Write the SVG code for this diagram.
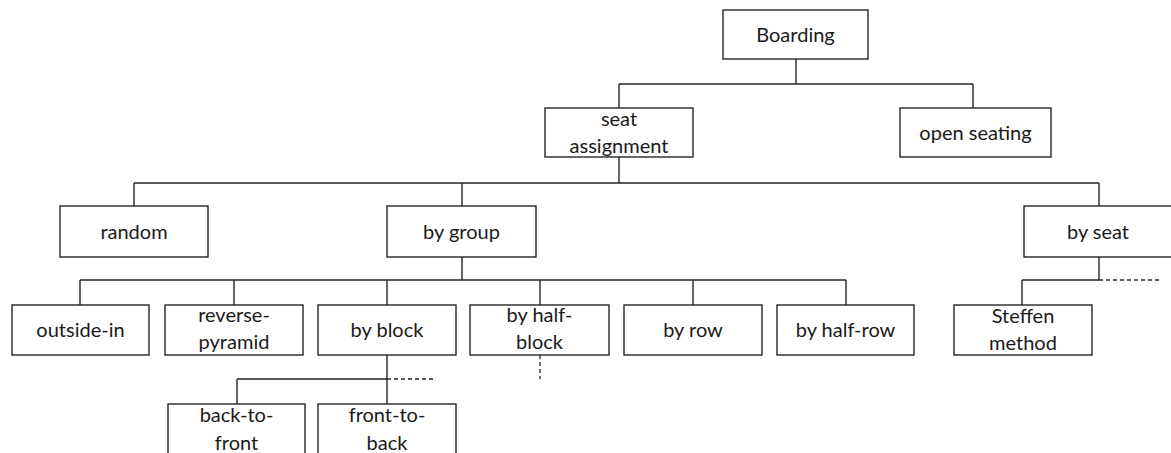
<svg xmlns="http://www.w3.org/2000/svg" width="1171" height="453" viewBox="0 0 1171 453">
<style>
.box{fill:#fff;stroke:#262626;stroke-width:1.4}
.lbl{font-family:Lato,"Noto Sans",sans-serif;font-size:20px;fill:#1a1a1a;text-anchor:middle}
.ln{fill:none;stroke:#262626;stroke-width:1.4}
.dash{fill:none;stroke:#262626;stroke-width:1.3;stroke-dasharray:4 3}
</style>
<rect width="1171" height="453" fill="#fff"/>
<g id="connectors">
<path class="ln" d="M796 59V84M619 84H973M619 84V108M973 84V108"/>
<path class="ln" d="M619 157V183M134 183H1099M134 183V206M462 183V206M1099 183V206"/>
<path class="ln" d="M462 257V280M80 280H846M80 280V305M234 280V305M387 280V305M540 280V305M693 280V305M846 280V305"/>
<path class="ln" d="M1099 257V280M1022 280H1099M1022 280V305"/>
<path class="dash" d="M1099 280H1160"/>
<path class="ln" d="M387 355V404M237 379H387M237 379V404"/>
<path class="dash" d="M387 379H433M540 355V379"/>
</g>
<g id="boarding"><rect class="box" x="723" y="10" width="145" height="49"/><text class="lbl" x="795.5" y="42">Boarding</text></g>
<g id="seat-assignment"><rect class="box" x="545" y="108" width="148" height="49"/><text class="lbl" x="619" y="126">seat</text><text class="lbl" x="619" y="153">assignment</text></g>
<g id="open-seating"><rect class="box" x="900" y="108" width="151" height="49"/><text class="lbl" x="975.5" y="140">open seating</text></g>
<g id="random"><rect class="box" x="60" y="206" width="148" height="51"/><text class="lbl" x="134" y="239">random</text></g>
<g id="by-group"><rect class="box" x="387" y="206" width="149" height="51"/><text class="lbl" x="461.5" y="239">by group</text></g>
<g id="by-seat"><rect class="box" x="1024" y="206" width="150" height="51"/><text class="lbl" x="1098" y="239">by seat</text></g>
<g id="outside-in"><rect class="box" x="12" y="305" width="137" height="50"/><text class="lbl" x="80.5" y="337">outside-in</text></g>
<g id="reverse-pyramid"><rect class="box" x="165" y="305" width="138" height="50"/><text class="lbl" x="234" y="322">reverse-</text><text class="lbl" x="234" y="349">pyramid</text></g>
<g id="by-block"><rect class="box" x="318" y="305" width="138" height="50"/><text class="lbl" x="387" y="337">by block</text></g>
<g id="by-half-block"><rect class="box" x="470" y="305" width="139" height="50"/><text class="lbl" x="539.5" y="322">by half-</text><text class="lbl" x="539.5" y="349">block</text></g>
<g id="by-row"><rect class="box" x="624" y="305" width="138" height="50"/><text class="lbl" x="693" y="337">by row</text></g>
<g id="by-half-row"><rect class="box" x="777" y="305" width="137" height="50"/><text class="lbl" x="845.5" y="337">by half-row</text></g>
<g id="steffen-method"><rect class="box" x="954" y="305" width="138" height="50"/><text class="lbl" x="1023" y="323">Steffen</text><text class="lbl" x="1023" y="350">method</text></g>
<g id="back-to-front"><rect class="box" x="168" y="404" width="137" height="60"/><text class="lbl" x="236.5" y="422">back-to-</text><text class="lbl" x="236.5" y="450">front</text></g>
<g id="front-to-back"><rect class="box" x="318" y="404" width="138" height="60"/><text class="lbl" x="387" y="422">front-to-</text><text class="lbl" x="387" y="450">back</text></g>
</svg>
